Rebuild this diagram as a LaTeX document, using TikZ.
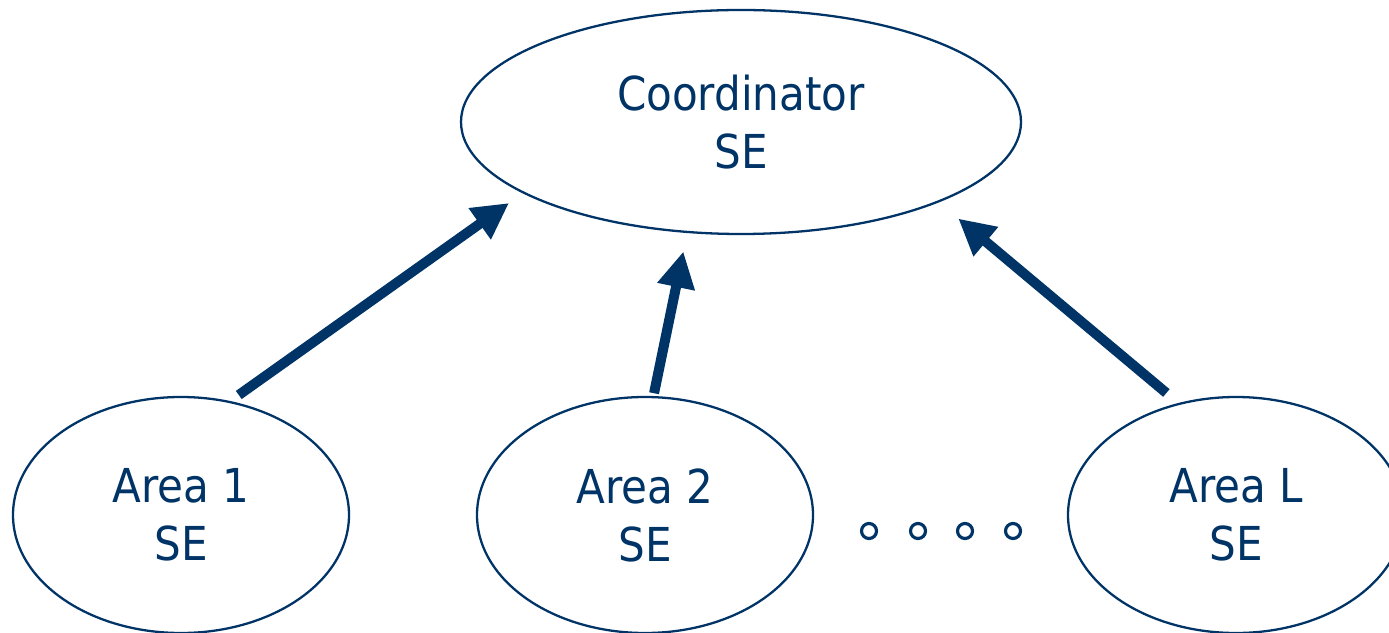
\documentclass[tikz,border=0pt]{standalone}
\usepackage{fontspec}
\setmainfont{DejaVu Sans Condensed}
\usepackage{tikz}
\usetikzlibrary{arrows.meta, shapes.geometric}
\definecolor{seblue}{HTML}{003366}
\newcommand{\sefont}{\fontsize{13.3pt}{16.5pt}\selectfont}

\begin{document}
\begin{tikzpicture}[
  se/.style={ellipse, draw=seblue, line width=0.65pt, text=seblue, align=center,
    inner sep=0pt, outer sep=0pt, font=\sefont},
  area/.style={se, minimum width=3.36cm, minimum height=2.36cm},
  feed/.style={seblue, line width=1mm, -{Triangle[length=3.6mm, width=3.6mm]}},
  dot/.style={circle, draw=seblue, line width=0.9pt, minimum size=1.5mm, inner sep=0pt}
]
\useasboundingbox (0,0) rectangle (13.89,6.32);
% the estimators
\node[se, minimum width=5.6cm, minimum height=2.24cm] (coord) at (7.41,5.10) {Coordinator\\SE};
\node[area] (area1) at (1.81,1.17) {Area 1\\SE};
\node[area] (area2) at (6.45,1.17) {Area 2\\SE};
\node[area] (areaL) at (12.36,1.17) {Area L\\SE};
% the areas left out
\foreach \x [count=\i] in {8.69,9.18,9.65,10.13}
  \node[dot] (dot\i) at (\x,1.01) {};
% results sent up
\draw[feed, shorten <=1.2mm, shorten >=1.8mm] (area1.67) -- (coord.198);
\draw[feed, shorten <=0.4mm, shorten >=2mm] (area2.86) -- (coord.244);
\draw[feed, shorten <=1.7mm, shorten >=2.65mm] (areaL.117.5) -- (coord.338);
\end{tikzpicture}
\end{document}
